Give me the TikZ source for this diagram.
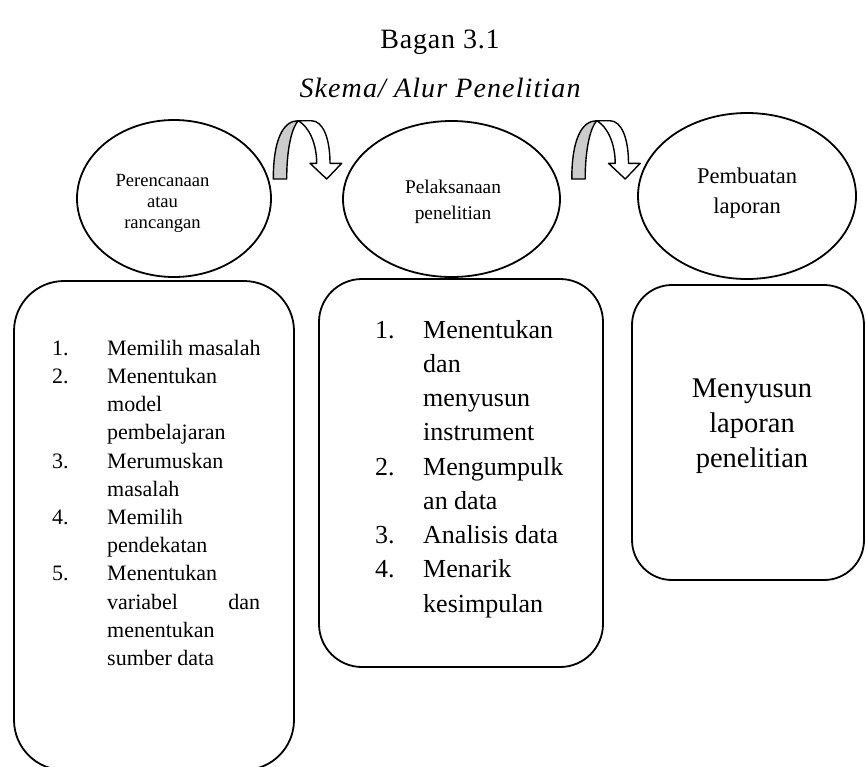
\documentclass[tikz,border=0pt]{standalone}
\usepackage{fontspec}
\setmainfont{Liberation Serif}
\usetikzlibrary{shapes.geometric}
\definecolor{archgrey}{RGB}{204,204,204}
\tikzset{
  frame/.style={draw, line width=1.8pt, rounded corners=#1, inner sep=0pt},
  oval/.style={draw, ellipse, line width=1.8pt, inner sep=0pt},
  txt/.style={inner sep=0pt},
  pics/bendarrow/.style={code={
    \filldraw[fill=archgrey, draw=black, line width=1.4pt]
      (0,0) .. controls (0,-40) and (10,-58.3) .. (25,-58.3)
      .. controls (19,-52) and (13.4,-32) .. (13.4,0) -- cycle;
    \filldraw[fill=white, draw=black, line width=1.4pt]
      (25,-58.3) -- (38,-58.3) .. controls (50,-58.3) and (56.7,-40) .. (56.7,-15.7)
      -- (68.4,-15.7) -- (53.4,0) -- (36.7,-15.7) -- (43.4,-15.7)
      .. controls (43.4,-35) and (36,-52) .. (25,-58.3) -- cycle;
  }}
}
\begin{document}
\begin{tikzpicture}[x=1pt, y=-1pt, line join=round]
  \path[use as bounding box, fill=white] (0,0) rectangle (866,766);

  % titles
  \node[txt, anchor=base, font=\fontsize{28}{34}\selectfont\addfontfeature{LetterSpace=3}] (title) at (440,48) {Bagan 3.1};
  \node[txt, anchor=base, font=\itshape\fontsize{28}{34}\selectfont\addfontfeature{LetterSpace=4}] (subtitle) at (440,97) {Skema/ Alur Penelitian};

  % ellipses
  \node[oval, minimum width=194pt, minimum height=157pt] (e1) at (174,198.5) {};
  \node[oval, minimum width=217pt, minimum height=156pt] (e2) at (451.5,199) {};
  \node[oval, minimum width=218pt, minimum height=166pt] (e3) at (747,196) {};

  \node[txt, anchor=north, font=\fontsize{18.6}{21}\selectfont] (e1t) at (162.5,171.3)
    {\begin{tabular}{@{}c@{}}Perencanaan\\ atau\\ rancangan\end{tabular}};
  \node[txt, anchor=north, font=\fontsize{19.4}{26}\selectfont] (e2t) at (453,174.8)
    {\begin{tabular}{@{}c@{}}Pelaksanaan\\ penelitian\end{tabular}};
  \node[txt, anchor=north, font=\fontsize{22.5}{30}\selectfont] (e3t) at (747,162)
    {\begin{tabular}{@{}c@{}}Pembuatan\\ laporan\end{tabular}};

  % curved arrows
  \pic at (273.3,179) {bendarrow};
  \pic at (571.8,179) {bendarrow};

  % boxes
  \node[frame=50pt, minimum width=280pt, minimum height=489pt] (b1) at (154,525.5) {};
  \node[frame=43pt, minimum width=284pt, minimum height=388pt] (b2) at (461,473) {};
  \node[frame=40pt, minimum width=232pt, minimum height=295pt] (b3) at (748,432.5) {};

  \node[txt, anchor=north west, font=\fontsize{22}{28.2}\selectfont] (b1t) at (52,335.3)
    {\begin{tabular}{@{}p{55pt}@{}l@{}}
      1. & Memilih masalah\\
      2. & Menentukan\\
         & model\\
         & pembelajaran\\
      3. & Merumuskan\\
         & masalah\\
      4. & Memilih\\
         & pendekatan\\
      5. & Menentukan\\
         & \makebox[153pt][s]{variabel\hfill dan}\\
         & menentukan\\
         & sumber data
    \end{tabular}};

  \node[txt, anchor=north west, font=\fontsize{26}{34.25}\selectfont] (b2t) at (375,314)
    {\begin{tabular}{@{}p{48pt}@{}l@{}}
      1. & Menentukan\\
         & dan\\
         & menyusun\\
         & instrument\\
      2. & Mengumpulk\\
         & an data\\
      3. & Analisis data\\
      4. & Menarik\\
         & kesimpulan
    \end{tabular}};

  \node[txt, anchor=north, font=\fontsize{28.5}{35}\selectfont] (b3t) at (752,372.5)
    {\begin{tabular}{@{}c@{}}Menyusun\\ laporan\\ penelitian\end{tabular}};
\end{tikzpicture}
\end{document}
